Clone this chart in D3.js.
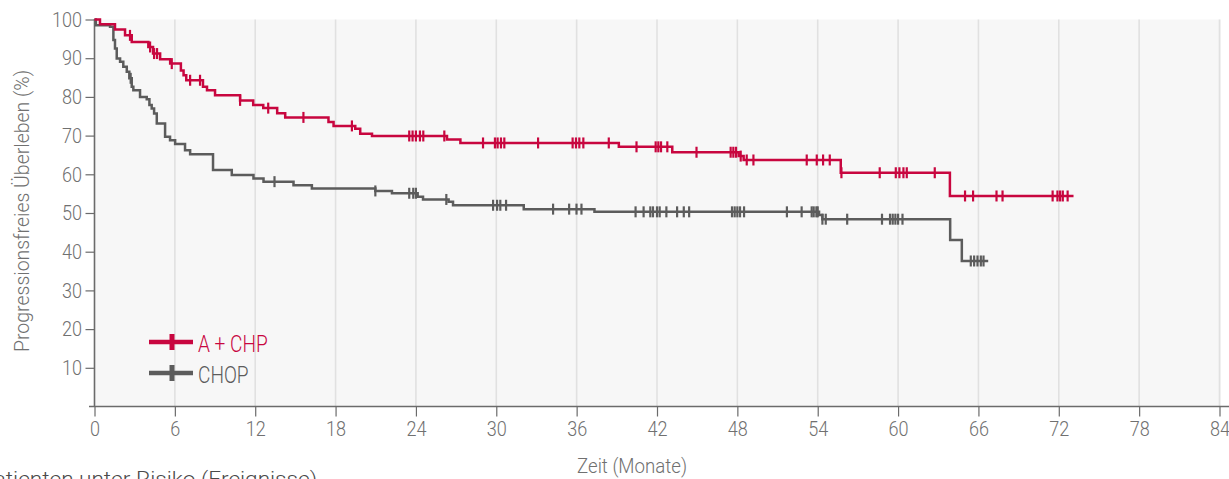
<!DOCTYPE html>
<html>
<head>
<meta charset="utf-8">
<script src="https://cdn.jsdelivr.net/npm/d3@7"></script>
<style>
  html, body { margin: 0; padding: 0; background: #ffffff; overflow: hidden; }
  svg { display: block; }
  text { font-family: Roboto, "Liberation Sans", sans-serif; font-weight: 300; }
</style>
</head>
<body>
<svg id="chart" width="1229" height="479"></svg>
<script>
// Progression-free survival, Kaplan–Meier curves (months, percent)
const xTicks = [0, 6, 12, 18, 24, 30, 36, 42, 48, 54, 60, 66, 72, 78, 84];
const yTicks = [10, 20, 30, 40, 50, 60, 70, 80, 90, 100];
const seriesNames = ["A + CHP", "CHOP"];

// A + CHP: time of each step and survival from that time on
const achpTimes  = [0, 0.41, 1.53, 2.28, 2.78, 4.02, 4.37, 4.9, 5.65, 6.45, 6.65, 6.85, 8.1, 8.4, 9.0, 10.87, 11.85, 12.6, 13.64, 14.24, 17.47, 17.85, 19.47, 19.84, 20.72, 26.32, 27.32, 39.15, 43.14, 48.1, 48.47, 55.72, 63.87, 73.1];
const achpValues = [100, 98.8, 97.4, 95.9, 94.2, 92.9, 91.2, 89.7, 88.6, 86.8, 85.6, 84.3, 82.6, 81.7, 80.4, 79.1, 77.9, 77.1, 75.8, 74.7, 73.5, 72.5, 71.8, 70.5, 69.9, 69.0, 68.1, 67.1, 65.7, 64.7, 63.7, 60.4, 54.4, 54.4];
const achpCensored = [2.65, 4.15, 4.45, 4.67, 5.77, 7.14, 7.88, 10.87, 12.97, 15.6, 19.22, 23.5, 23.75, 24.0, 24.3, 24.55, 26.12, 29.01, 29.9, 30.1, 30.35, 30.6, 33.12, 35.7, 35.95, 36.2, 36.5, 38.4, 40.47, 41.9, 42.1, 42.3, 42.77, 44.95, 47.5, 47.7, 47.9, 48.25, 48.7, 49.2, 53.18, 53.93, 54.4, 54.9, 55.77, 58.63, 59.83, 60.1, 60.4, 60.65, 62.74, 65.0, 65.6, 67.35, 67.8, 71.54, 71.9, 72.1, 72.3, 72.66];

// CHOP: time of each step and survival from that time on
const chopTimes  = [0, 0.1, 1.16, 1.41, 1.53, 1.66, 1.91, 2.15, 2.41, 2.6, 2.78, 2.9, 3.4, 3.9, 4.1, 4.27, 4.45, 4.65, 5.27, 5.64, 6.02, 6.76, 7.14, 8.85, 10.25, 11.87, 12.62, 14.86, 16.23, 20.97, 22.21, 24.13, 24.53, 26.44, 26.77, 32.05, 37.33, 54.1, 54.35, 63.89, 64.76, 66.73];
const chopValues = [100, 98.5, 98.1, 94.7, 92.5, 89.9, 89.1, 87.8, 86.5, 84.8, 82.6, 81.7, 80.0, 79.4, 77.9, 77.0, 75.7, 73.1, 69.7, 68.8, 67.8, 66.2, 65.2, 61.1, 59.8, 58.9, 58.1, 57.2, 56.3, 55.7, 55.1, 54.2, 53.5, 52.9, 52.0, 51.0, 50.3, 49.5, 48.4, 43.0, 37.6, 37.6];
const chopCensored = [2.7, 13.44, 20.97, 23.5, 23.8, 24.0, 26.27, 29.76, 30.06, 30.3, 30.73, 34.24, 35.44, 35.99, 36.36, 40.4, 41.0, 41.5, 41.7, 42.0, 42.2, 42.7, 43.5, 44.0, 44.4, 47.6, 47.8, 48.0, 48.2, 48.5, 51.7, 52.8, 53.55, 53.7, 53.9, 54.0, 54.35, 54.6, 56.2, 58.8, 59.4, 59.6, 59.8, 60.0, 60.33, 65.43, 65.68, 65.93, 66.18, 66.38];

const colors = { "A + CHP": "#c8063f", "CHOP": "#5c5c5c" };
const textGray = "#707070";
const squeeze = 0.86;       // narrow lettering for tick labels
const legendSqueeze = 0.83; // narrow lettering for legend labels

const svg = d3.select("#chart");
const x = d3.scaleLinear().domain([0, 84]).range([94.5, 1219.5]);
const y = d3.scaleLinear().domain([0, 100]).range([406.5, 19.5]);

// plot background
svg.append("rect")
  .attr("x", x(0)).attr("y", y(100))
  .attr("width", x(84) - x(0) + 1.5).attr("height", y(0) - y(100))
  .attr("fill", "#f7f7f7");

// vertical grid lines
svg.append("g").selectAll("line").data(xTicks.filter(d => d > 0)).join("line")
  .attr("x1", d => x(d)).attr("x2", d => x(d))
  .attr("y1", y(100)).attr("y2", y(0))
  .attr("stroke", "#e1e1e1").attr("stroke-width", 1.6);

// x axis
const xAxis = svg.append("g").attr("transform", `translate(0,${y(0)})`)
  .call(d3.axisBottom(x).tickValues(xTicks).tickSize(10).tickPadding(6).tickFormat(d3.format("d")));
xAxis.select(".domain").attr("d", `M89,0H1229`).attr("stroke", "#6b6b6b").attr("stroke-width", 1.6);
xAxis.selectAll(".tick line").attr("stroke", "#6b6b6b").attr("stroke-width", 1.2);
xAxis.selectAll(".tick text")
  .attr("fill", textGray).attr("font-size", 21).attr("font-family", null)
  .attr("x", 0).attr("y", 22).attr("dy", "0.35em")
  .attr("transform", `scale(${squeeze},1)`);

// y axis
const yAxis = svg.append("g").attr("transform", `translate(${x(0)},0)`)
  .call(d3.axisLeft(y).tickValues(yTicks).tickSize(9).tickPadding(3).tickFormat(d3.format("d")));
yAxis.select(".domain").attr("d", `M0,${y(100) - 0.5}V${y(0)}`).attr("stroke", "#6b6b6b").attr("stroke-width", 1.6);
yAxis.selectAll(".tick line").attr("stroke", "#6b6b6b").attr("stroke-width", 1.2);
yAxis.selectAll(".tick text")
  .attr("fill", textGray).attr("font-size", 21).attr("font-family", null)
  .attr("x", -12.5 / squeeze)
  .attr("transform", `scale(${squeeze},1)`);

// axis titles
svg.append("text")
  .attr("transform", `translate(29,${(70 + 352) / 2}) rotate(-90)`)
  .attr("text-anchor", "middle")
  .attr("fill", textGray).attr("font-size", 20)
  .attr("textLength", 282).attr("lengthAdjust", "spacingAndGlyphs")
  .text("Progressionsfreies Überleben (%)");

svg.append("text")
  .attr("x", 577).attr("y", 473)
  .attr("fill", textGray).attr("font-size", 20)
  .attr("textLength", 110).attr("lengthAdjust", "spacingAndGlyphs")
  .text("Zeit (Monate)");

svg.append("text")
  .attr("x", -20).attr("y", 486)
  .attr("fill", "#4a4a4a").attr("font-size", 20).attr("font-weight", 400)
  .attr("textLength", 337).attr("lengthAdjust", "spacingAndGlyphs")
  .text("Patienten unter Risiko (Ereignisse)");

// step curves and censor marks
function stepValue(times, values, t) {
  const i = d3.bisectRight(times, t) - 1;
  return values[Math.max(0, i)];
}

const line = d3.line().x(d => x(d[0])).y(d => y(d[1])).curve(d3.curveStepAfter);

const series = [
  { name: "A + CHP", times: achpTimes, values: achpValues, censored: achpCensored },
  { name: "CHOP", times: chopTimes, values: chopValues, censored: chopCensored }
];

// CHOP first so A + CHP sits on top
series.slice().reverse().forEach(s => {
  const pts = s.times.map((t, i) => [t, s.values[i]]);
  const g = svg.append("g");
  g.append("path")
    .attr("d", line(pts))
    .attr("fill", "none")
    .attr("stroke", colors[s.name])
    .attr("stroke-width", 2.5);
  g.selectAll("line").data(s.censored).join("line")
    .attr("x1", d => x(d)).attr("x2", d => x(d))
    .attr("y1", d => y(stepValue(s.times, s.values, d)) - 5.5)
    .attr("y2", d => y(stepValue(s.times, s.values, d)) + 5.5)
    .attr("stroke", colors[s.name])
    .attr("stroke-width", 2.2);
});

// legend
const legend = svg.append("g");
seriesNames.forEach((name, i) => {
  const cy = 342 + i * 31;
  legend.append("line")
    .attr("x1", 149).attr("x2", 193).attr("y1", cy).attr("y2", cy)
    .attr("stroke", colors[name]).attr("stroke-width", 4.5);
  legend.append("line")
    .attr("x1", 172).attr("x2", 172).attr("y1", cy - 8).attr("y2", cy + 8)
    .attr("stroke", colors[name]).attr("stroke-width", 5);
  legend.append("text")
    .attr("x", 198 / legendSqueeze).attr("y", cy + 1.5)
    .attr("dominant-baseline", "central")
    .attr("transform", `scale(${legendSqueeze},1)`)
    .attr("fill", colors[name])
    .attr("font-size", 23)
    .text(name);
});
</script>
</body>
</html>
